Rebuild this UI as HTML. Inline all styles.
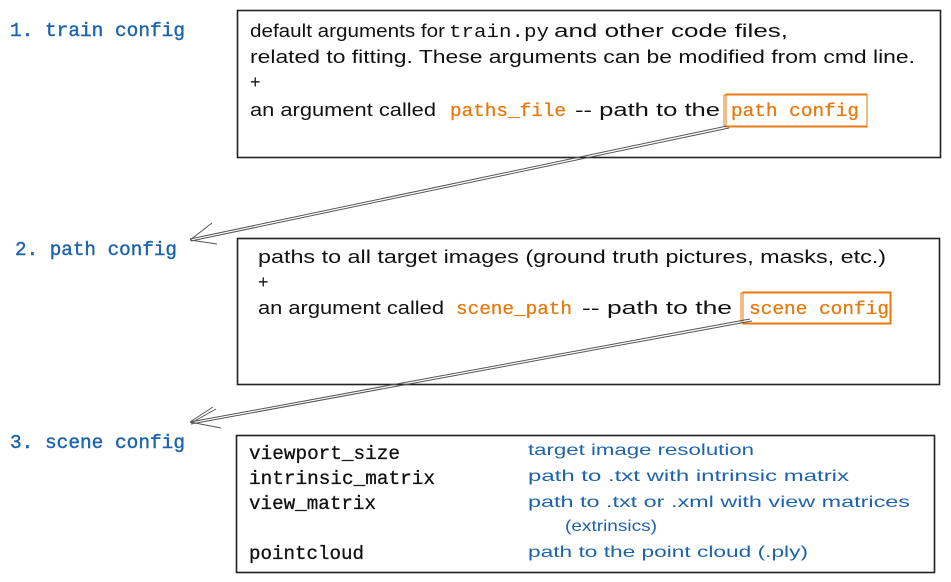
<!DOCTYPE html>
<html><head><meta charset="utf-8"><style>
html,body{margin:0;padding:0;background:#fff;width:951px;height:582px;overflow:hidden}
.mono{font-family:"Liberation Mono",monospace}
.hand{font-family:"Liberation Sans",sans-serif}
</style></head><body>
<svg width="951" height="582" viewBox="0 0 951 582" xmlns="http://www.w3.org/2000/svg">
<g class="mono" fill="#1c63ad" stroke="#1c63ad" stroke-width="0.4" font-size="19">
<text x="10" y="36" textLength="175" lengthAdjust="spacingAndGlyphs">1. train config</text>
<text x="15" y="255" textLength="162" lengthAdjust="spacingAndGlyphs">2. path config</text>
<text x="10" y="448" textLength="175" lengthAdjust="spacingAndGlyphs">3. scene config</text>
</g>
<g fill="none" stroke="#222" stroke-width="1.6">
<rect x="237.5" y="10.5" width="703" height="147"/>
<rect x="237.5" y="238.5" width="702" height="146"/>
<rect x="236.5" y="435.5" width="698" height="137"/>
</g>
<g class="hand" font-size="18" fill="#111">
<text x="250" y="37" textLength="195" lengthAdjust="spacingAndGlyphs">default arguments for</text>
<text x="449" y="37" class="mono" font-size="18" textLength="100" lengthAdjust="spacingAndGlyphs">train.py</text>
<text x="554" y="37" textLength="234" lengthAdjust="spacingAndGlyphs">and other code files,</text>
<text x="250" y="63" textLength="665" lengthAdjust="spacingAndGlyphs">related to fitting. These arguments can be modified from cmd line.</text>
<text x="250" y="88">+</text>
<text x="250" y="116" textLength="186" lengthAdjust="spacingAndGlyphs">an argument called</text>
<text x="575" y="116" textLength="145" lengthAdjust="spacingAndGlyphs">-- path to the</text>
<text x="258" y="263" textLength="628" lengthAdjust="spacingAndGlyphs">paths to all target images (ground truth pictures, masks, etc.)</text>
<text x="258" y="288">+</text>
<text x="258" y="314" textLength="186" lengthAdjust="spacingAndGlyphs">an argument called</text>
<text x="582" y="314" textLength="150" lengthAdjust="spacingAndGlyphs">-- path to the</text>
</g>
<g class="mono" font-size="18" fill="#e67a0f" stroke="#e67a0f" stroke-width="0.3">
<text x="450" y="116" textLength="116" lengthAdjust="spacingAndGlyphs">paths_file</text>
<text x="731" y="116" textLength="128" lengthAdjust="spacingAndGlyphs">path config</text>
<text x="456" y="314" textLength="116" lengthAdjust="spacingAndGlyphs">scene_path</text>
<text x="749" y="314" textLength="140" lengthAdjust="spacingAndGlyphs">scene config</text>
</g>
<g fill="none" stroke="#e67a0f" stroke-width="1">
<rect x="724" y="95" width="143" height="31"/>
<rect x="726" y="94" width="141" height="33"/>
<rect x="741" y="293" width="149" height="30"/>
<rect x="743" y="292" width="148" height="32"/>
</g>
<g fill="none" stroke="#555" stroke-width="1">
<path d="M727 126 L190 239"/><path d="M729 128 L191 241"/>
<path d="M190 240 L212 223 M190 240 L217 244"/>
<path d="M750 319 L190 422"/><path d="M752 321 L191 424"/>
<path d="M190 422 L213 407 M190 422 L221 428 M191 423 L216 409"/>
</g>
<g class="mono" font-size="19" fill="#111" stroke="#111" stroke-width="0.3">
<text x="249" y="459" textLength="151" lengthAdjust="spacingAndGlyphs">viewport_size</text>
<text x="249" y="484" textLength="186" lengthAdjust="spacingAndGlyphs">intrinsic_matrix</text>
<text x="249" y="509" textLength="127" lengthAdjust="spacingAndGlyphs">view_matrix</text>
<text x="249" y="559" textLength="115" lengthAdjust="spacingAndGlyphs">pointcloud</text>
</g>
<g class="hand" font-size="16" fill="#1c63ad">
<text x="528" y="455" textLength="226" lengthAdjust="spacingAndGlyphs">target image resolution</text>
<text x="528" y="481" textLength="321" lengthAdjust="spacingAndGlyphs">path to .txt with intrinsic matrix</text>
<text x="528" y="507" textLength="382" lengthAdjust="spacingAndGlyphs">path to .txt or .xml with view matrices</text>
<text x="565" y="531" textLength="92" lengthAdjust="spacingAndGlyphs">(extrinsics)</text>
<text x="528" y="557" textLength="280" lengthAdjust="spacingAndGlyphs">path to the point cloud (.ply)</text>
</g>
</svg>
</body></html>
